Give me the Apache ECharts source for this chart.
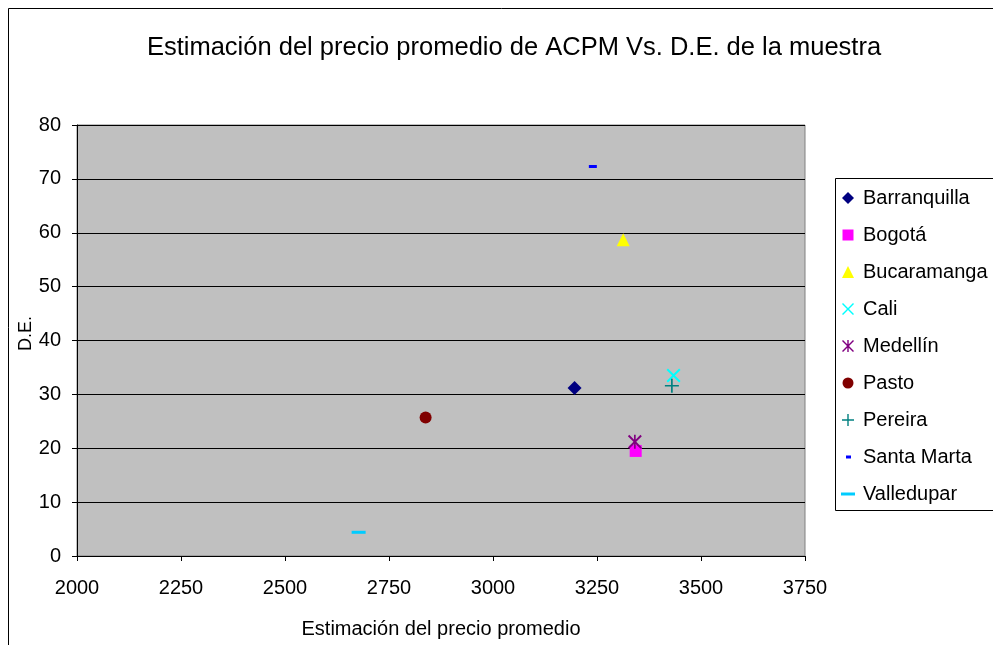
<!DOCTYPE html>
<html><head><meta charset="utf-8">
<script src="https://cdn.jsdelivr.net/npm/echarts@6/dist/echarts.min.js"></script>
<style>html,body{margin:0;padding:0;background:#fff}#c{width:993px;height:645px}</style>
</head><body><div id="c"></div>
<script>
const cities = ['Barranquilla','Bogotá','Bucaramanga','Cali','Medellín','Pasto','Pereira','Santa Marta','Valledupar'];
const precio = [3196, 3343, 3313, 3434, 3341, 2838, 3430, 3240, 2677];
const de = [31.2, 19.5, 58.7, 33.5, 21.2, 25.7, 31.6, 72.3, 4.4];
const xTicks = [2000, 2250, 2500, 2750, 3000, 3250, 3500, 3750];
const yTicks = [0, 10, 20, 30, 40, 50, 60, 70, 80];

const colors = ['#000080','#FF00FF','#FFFF00','#00FFFF','#800080','#800000','#008080','#0000FF','#00CCFF'];
const X_PATH = 'M0,1L1,0L5,4L9,0L10,1L6,5L10,9L9,10L5,6L1,10L0,9L4,5Z';
const PLUS_PATH = 'M4.4,0h1.2v4.4h4.4v1.2h-4.4v4.4h-1.2v-4.4h-4.4v-1.2h4.4z';
const symbols = [
  'diamond','rect','triangle',
  'path://' + X_PATH,
  'path://' + X_PATH + 'M4.4,0h1.2v10h-1.2z',
  'circle',
  'path://' + PLUS_PATH,
  'path://M0,0h8v3h-8z',
  'path://M0,0h14v3h-14z'
];
const sizes = [14, 12, 13, 14, 14, 12, 14, [8,3], [14,3]];
const legendIcons = [
  'path://M0,0M14,14M7,1L13,7L7,13L1,7Z',
  'path://M0,0M14,14M1.5,1.5h11v11h-11z',
  'path://M0,0M14,14M7,1L13,13L1,13Z',
  'path://M0,0M14,14M1,2L2,1L7,6L12,1L13,2L8,7L13,12L12,13L7,8L2,13L1,12L6,7Z',
  'path://M0,0M14,14M1,2L2,1L7,6L12,1L13,2L8,7L13,12L12,13L7,8L2,13L1,12L6,7Z M6.3,1h1.4v12h-1.4z',
  'path://M0,0M14,14M7,1.5A5.5,5.5,0,1,1,6.99,1.5Z',
  'path://M0,0M14,14M6.3,1h1.4v5.3h5.3v1.4h-5.3v5.3h-1.4v-5.3h-5.3v-1.4h5.3z',
  'path://M0,0M14,14M5,5.5h5v3h-5z',
  'path://M0,0M14,14M0,5.5h14v3h-14z'
];

const series = cities.map((c, i) => ({
  name: c, type: 'scatter',
  data: [[precio[i], de[i]]],
  symbol: symbols[i], symbolSize: sizes[i],
  itemStyle: { color: colors[i], opacity: 1 },
  emphasis: { disabled: true },
  z: 3
}));

const FF = 'Liberation Sans, Arial, sans-serif';
const chart = echarts.init(document.getElementById('c'), null, { renderer: 'canvas' });
chart.setOption({
  animation: false,
  backgroundColor: '#fff',
  textStyle: { fontFamily: FF },
  title: {
    text: 'Estimación del precio promedio de ACPM Vs. D.E. de la muestra',
    left: 509, top: 30, textAlign: 'center',
    textStyle: { fontSize: 25.5, fontWeight: 'normal', color: '#000', fontFamily: FF }
  },
  grid: {
    left: 77, top: 125, width: 728, height: 431,
    show: true, backgroundColor: '#C0C0C0', borderColor: '#808080', borderWidth: 1
  },
  legend: {
    orient: 'vertical', left: 841, top: 188, padding: 0,
    itemWidth: 14, itemHeight: 14, itemGap: 17,
    data: cities.map((c, i) => ({ name: c, icon: legendIcons[i], itemStyle: { color: colors[i] } })),
    textStyle: { fontSize: 20, color: '#000', lineHeight: 20, padding: [0,0,0,3], fontFamily: FF },
    selectedMode: false
  },
  xAxis: {
    type: 'value', min: 2000, max: 3750, interval: 250,
    name: 'Estimación del precio promedio', nameLocation: 'middle', nameGap: 63,
    nameTextStyle: { fontSize: 20, color: '#000' },
    axisLine: { show: true, onZero: false, lineStyle: { color: '#000', width: 1 } },
    axisTick: { show: true, length: 5, lineStyle: { color: '#000' } },
    axisLabel: { fontSize: 20, color: '#000', margin: 22, formatter: v => xTicks.includes(v) ? String(v) : '' },
    splitLine: { show: false }
  },
  yAxis: {
    type: 'value', min: 0, max: 80, interval: 10,
    name: 'D.E.', nameLocation: 'middle', nameGap: 42, nameMoveOverlap: false,
    nameTextStyle: { fontSize: 18, color: '#000', padding: [0, 0, 0, 14] },
    axisLine: { show: true, onZero: false, lineStyle: { color: '#000', width: 1 } },
    axisTick: { show: true, length: 5, lineStyle: { color: '#000' } },
    axisLabel: { fontSize: 20, color: '#000', margin: 16, formatter: v => yTicks.includes(v) ? String(v) : '' },
    splitLine: { show: true, lineStyle: { color: '#000', width: 1 } }
  },
  graphic: [
    { type: 'rect', shape: { x: 8.5, y: 8.5, width: 1000, height: 700 }, style: { fill: null, stroke: '#000', lineWidth: 1 }, silent: true, z: -1 },
    { type: 'rect', shape: { x: 835.5, y: 178.5, width: 200, height: 332 }, style: { fill: '#fff', stroke: '#000', lineWidth: 1 }, silent: true, z: 0 }
  ],
  series: series
});
</script></body></html>
